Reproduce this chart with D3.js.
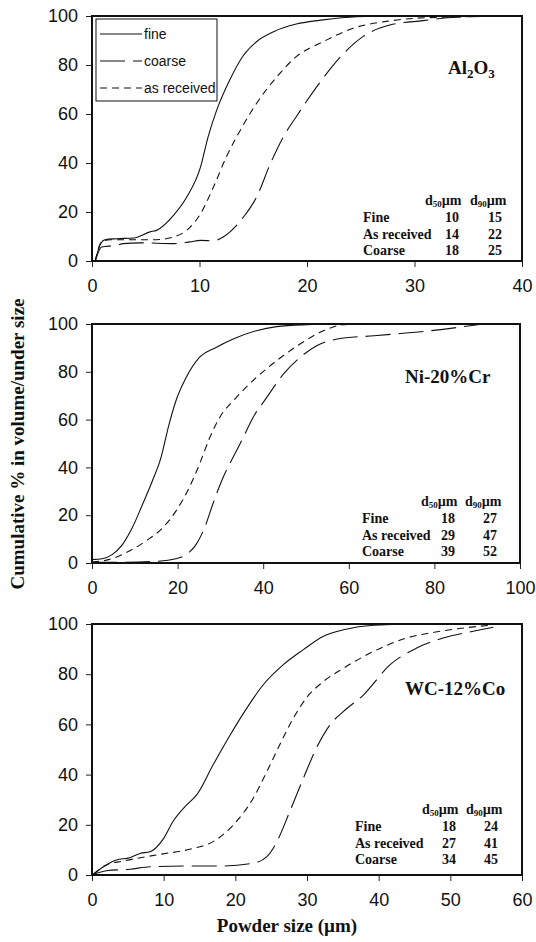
<!DOCTYPE html>
<html>
<head>
<meta charset="utf-8">
<script src="https://cdn.jsdelivr.net/npm/d3@7"></script>
<style>
  body { margin: 0; background: #fff; }
  svg { display: block; }
  .tick text { font-family: "Liberation Sans", Arial, sans-serif; font-size: 18px; fill: #111; }
  .serif { font-family: "Liberation Serif", "Times New Roman", serif; font-weight: bold; fill: #111; }
</style>
</head>
<body>
<div id="chart"></div>
<script>
// ---- data (powder size in um, cumulative % under size) ----
const al2o3FineX   = [0.3, 0.8, 1.2, 2.3, 3.9, 5.4, 6.0, 7.6, 8.8, 10.1, 10.8, 11.6, 12.8, 14.1, 15.3, 16.9, 19.0, 21.5, 24.6, 27.7, 40];
const al2o3FineY   = [0, 7, 8.7, 9.1, 9.4, 11.9, 12.5, 18.7, 26, 38.4, 50.7, 61.6, 73.8, 84, 89.5, 93.6, 96.7, 98.4, 99.7, 100, 100];
const al2o3RecX    = [0.3, 0.9, 1.7, 2.9, 6.0, 7.6, 8.8, 10.1, 11.3, 12.5, 13.8, 15.3, 17.2, 19.0, 21.5, 24.3, 27.7, 32.4, 39.8];
const al2o3RecY    = [0, 7.8, 8.7, 8.7, 8.7, 9.8, 12.5, 19.3, 30.2, 42.5, 53.4, 64.3, 75.2, 83.4, 89.5, 95, 98, 99.5, 100];
const al2o3CoarseX = [0.3, 0.9, 2.3, 2.9, 4.5, 7.6, 9.1, 10.1, 11.3, 12.2, 14.1, 15.3, 16.6, 17.8, 19.0, 20.9, 23.4, 25.2, 27.7, 30.8, 33.9, 40];
const al2o3CoarseY = [0, 5.7, 6.4, 7.1, 7.4, 7.1, 7.8, 8.4, 8.2, 9.8, 18, 26, 39.8, 50.7, 58.9, 71.1, 84.7, 91.6, 96.3, 98.1, 99.5, 100];

const nicrFineX   = [0, 2.4, 4.7, 7.1, 9.4, 11.8, 14.1, 16.1, 18.0, 19.6, 22, 25.1, 29, 33, 38.4, 43.1, 50.2, 58.8];
const nicrFineY   = [1.4, 1.8, 3.5, 7.7, 14.7, 24.5, 34.3, 44, 58, 67.8, 77.6, 86, 90.2, 93.7, 97.2, 98.9, 99.7, 100];
const nicrRecX    = [0, 3.9, 8.6, 12.5, 16.5, 19.6, 22.7, 25.1, 27.5, 29.8, 33.7, 38.4, 43.1, 48.6, 54.1, 58.8, 66.7];
const nicrRecY    = [0.4, 1.4, 4.9, 9.1, 14.7, 21.7, 31.5, 41.3, 52.4, 60.8, 69.2, 77.6, 84.6, 91.6, 97.2, 99.7, 100];
const nicrCoarseX = [0, 7.1, 14.9, 19.6, 22, 24.3, 26.3, 28.2, 30.6, 32.9, 35.3, 37.6, 40.8, 44.7, 48.6, 52.5, 57.3, 65.9, 77.6, 90.2];
const nicrCoarseY = [0.3, 0.3, 0.7, 1.8, 3.5, 7.7, 14.7, 24.5, 35.7, 44, 52.4, 60.8, 69.2, 79, 86, 90.9, 93.7, 95.1, 96.9, 99.7];

const wccoFineX   = [0.2, 1.6, 3.4, 5.3, 6.7, 8.1, 10, 11.3, 13.2, 14.6, 16.9, 19.3, 21.6, 23.9, 26.7, 29.5, 32.3, 35.1, 39.3, 46.2, 56];
const wccoFineY   = [0.3, 3.3, 6, 6.9, 8.6, 9.3, 14.6, 21.3, 27.9, 31.9, 43.9, 55.9, 66.5, 75.8, 83.8, 89.8, 95.1, 97.7, 99.5, 100, 100];
const wccoRecX    = [0.2, 2.0, 4.4, 9.0, 14.1, 16.9, 19.7, 22.5, 24.4, 26.2, 28.1, 29.9, 32.3, 35.1, 39.3, 43.9, 48.6, 55.5];
const wccoRecY    = [0.3, 4, 5.6, 8, 10.6, 13.3, 19.9, 30.6, 41.2, 51.9, 62.5, 70.5, 77.1, 82.4, 89.1, 94.4, 97.1, 99.5];
const wccoCoarseX = [0.2, 2.0, 5.3, 8.1, 13.7, 18.3, 22.5, 24.4, 25.8, 27.6, 29.5, 31.3, 33.2, 35.1, 37.9, 41.6, 45.3, 49.0, 53.2, 56.0];
const wccoCoarseY = [0.3, 1.7, 2.3, 3.3, 3.6, 3.6, 4.7, 7.3, 13.3, 25.3, 38.6, 50.5, 59.8, 65.2, 71.8, 83.8, 90.4, 94.4, 97.1, 98.7];

const yTicks = [0, 20, 40, 60, 80, 100];
const al2o3XTicks = [0, 10, 20, 30, 40];
const nicrXTicks  = [0, 20, 40, 60, 80, 100];
const wccoXTicks  = [0, 10, 20, 30, 40, 50, 60];

const tableRows = ["Fine", "As received", "Coarse"];
const al2o3D50 = [10, 14, 18], al2o3D90 = [15, 22, 25];
const nicrD50  = [18, 29, 39], nicrD90  = [27, 47, 52];
const wccoD50  = [18, 27, 34], wccoD90  = [24, 41, 45];

const legendLabels = ["fine", "coarse", "as received"];
const dashes = { fine: null, coarse: "25,8", rec: "7,5" };

// ---- layout ----
const W = 536, H = 942;
const svg = d3.select("#chart").append("svg").attr("width", W).attr("height", H);

const panels = [
  { box: [92, 522, 16, 261], xMax: 40, xTicks: al2o3XTicks,
    series: [[al2o3FineX, al2o3FineY, "fine"], [al2o3CoarseX, al2o3CoarseY, "coarse"], [al2o3RecX, al2o3RecY, "rec"]],
    d50: al2o3D50, d90: al2o3D90, tab: { x: 363, c1: 452, c2: 495, y: 222 }, label: "al2o3", labelPos: [448, 74], legend: true },
  { box: [92, 520, 324, 563], xMax: 100, xTicks: nicrXTicks,
    series: [[nicrFineX, nicrFineY, "fine"], [nicrCoarseX, nicrCoarseY, "coarse"], [nicrRecX, nicrRecY, "rec"]],
    d50: nicrD50, d90: nicrD90, tab: { x: 362, c1: 448, c2: 490, y: 523 }, label: "Ni-20%Cr", labelPos: [405, 383] },
  { box: [92, 522, 624, 875], xMax: 60, xTicks: wccoXTicks,
    series: [[wccoFineX, wccoFineY, "fine"], [wccoCoarseX, wccoCoarseY, "coarse"], [wccoRecX, wccoRecY, "rec"]],
    d50: wccoD50, d90: wccoD90, tab: { x: 355, c1: 449, c2: 491, y: 831 }, label: "WC-12%Co", labelPos: [405, 695] }
];

panels.forEach(p => {
  const [x0, x1, y0, y1] = p.box;
  const x = d3.scaleLinear().domain([0, p.xMax]).range([x0, x1]);
  const y = d3.scaleLinear().domain([0, 100]).range([y1, y0]);
  const g = svg.append("g");

  // axes
  g.append("g").attr("transform", `translate(${x0},0)`)
    .call(d3.axisLeft(y).tickValues(yTicks).tickSize(6).tickPadding(8))
    .call(a => a.select(".domain").remove());
  g.append("g").attr("transform", `translate(0,${y1})`)
    .call(d3.axisBottom(x).tickValues(p.xTicks).tickSize(6).tickPadding(12))
    .call(a => a.select(".domain").remove());
  g.selectAll(".tick line").attr("stroke", "#222");

  // frame
  g.append("rect").attr("x", x0).attr("y", y0).attr("width", x1 - x0).attr("height", y1 - y0)
    .attr("fill", "none").attr("stroke", "#111").attr("stroke-width", 2);

  // curves
  const line = d3.line().x(d => x(d[0])).y(d => y(d[1])).curve(d3.curveMonotoneX);
  p.series.forEach(([xs, ys, kind]) => {
    g.append("path")
      .datum(xs.map((v, i) => [v, ys[i]]))
      .attr("d", line)
      .attr("fill", "none")
      .attr("stroke", "#111")
      .attr("stroke-width", 1.1)
      .attr("stroke-dasharray", dashes[kind]);
  });

  // material label
  const lab = g.append("text").attr("class", "serif").attr("x", p.labelPos[0]).attr("y", p.labelPos[1])
    .attr("font-size", 19);
  if (p.label === "al2o3") {
    lab.append("tspan").text("Al");
    lab.append("tspan").text("2").attr("font-size", 13).attr("dy", 4);
    lab.append("tspan").text("O").attr("dy", -4);
    lab.append("tspan").text("3").attr("font-size", 13).attr("dy", 4);
  } else {
    lab.text(p.label);
  }

  // table of d50 / d90
  const t = p.tab;
  [[t.c1 - 27, "50"], [t.c2 - 25, "90"]].forEach(([hx, sub]) => {
    const h = g.append("text").attr("class", "serif").attr("x", hx).attr("y", t.y - 17).attr("font-size", 14);
    h.append("tspan").text("d");
    h.append("tspan").text(sub).attr("font-size", 9).attr("dy", 2);
    h.append("tspan").text("µm").attr("dy", -2);
  });
  tableRows.forEach((r, i) => {
    const ty = t.y + i * 16.5;
    g.append("text").attr("class", "serif").attr("x", t.x).attr("y", ty).attr("font-size", 14).text(r);
    g.append("text").attr("class", "serif").attr("x", t.c1).attr("y", ty).attr("font-size", 14)
      .attr("text-anchor", "middle").text(p.d50[i]);
    g.append("text").attr("class", "serif").attr("x", t.c2).attr("y", ty).attr("font-size", 14)
      .attr("text-anchor", "middle").text(p.d90[i]);
  });

  // legend (first panel only)
  if (p.legend) {
    const lg = g.append("g");
    lg.append("rect").attr("x", 96).attr("y", 19).attr("width", 121).attr("height", 82)
      .attr("fill", "#fff").attr("stroke", "#111").attr("stroke-width", 1);
    ["fine", "coarse", "rec"].forEach((k, i) => {
      const ly = 34 + i * 27;
      lg.append("line").attr("x1", 100).attr("x2", 142).attr("y1", ly).attr("y2", ly)
        .attr("stroke", "#111").attr("stroke-width", 1.1).attr("stroke-dasharray", dashes[k]);
      lg.append("text").attr("x", 144).attr("y", ly + 4.5)
        .attr("font-family", "Liberation Sans, Arial, sans-serif").attr("font-size", 14).attr("fill", "#111")
        .text(legendLabels[i]);
    });
  }
});

// axis titles
svg.append("text").attr("class", "serif").attr("font-size", 19)
  .attr("text-anchor", "middle")
  .attr("transform", "translate(24,444) rotate(-90)")
  .text("Cumulative % in volume/under size");
svg.append("text").attr("class", "serif").attr("font-size", 19)
  .attr("text-anchor", "middle").attr("x", 287).attr("y", 932)
  .text("Powder size (µm)");
</script>
</body>
</html>
